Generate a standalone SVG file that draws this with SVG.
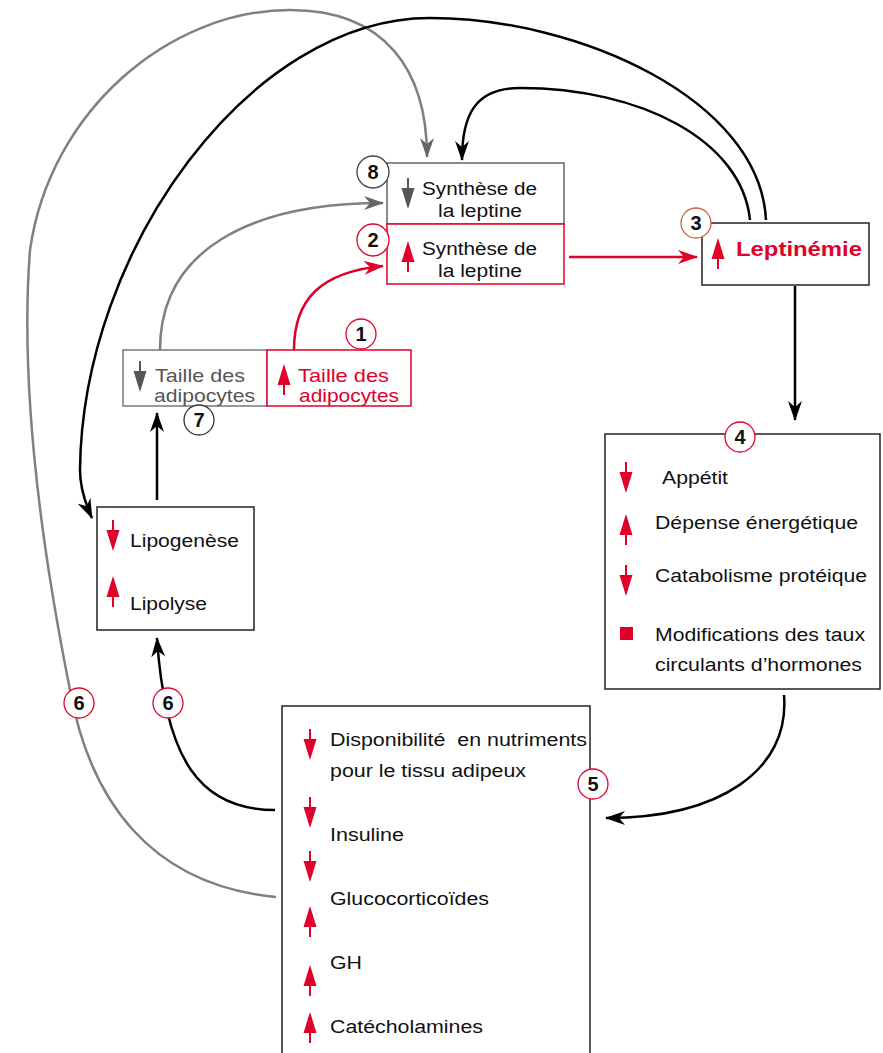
<svg xmlns="http://www.w3.org/2000/svg" xmlns:xlink="http://www.w3.org/1999/xlink" width="883" height="1053" viewBox="0 0 883 1053">
<style>
text{font-family:"Liberation Sans",Arial,sans-serif;}
.t{font-size:18px;fill:#111;}
.n{font-size:20px;font-weight:bold;fill:#111;text-anchor:middle;}
.box{fill:#fff;stroke:#222;stroke-width:1.5;}
.c{fill:#fff;stroke-width:1.3;}
.k{fill:none;stroke:#000;stroke-width:2.5;}
.g{fill:none;stroke:#808080;stroke-width:2.5;}
.r{fill:none;stroke:#e0002a;stroke-width:2.5;}
</style>
<defs>
<g id="dn"><path d="M0,0V14" stroke-width="2"/><path d="M-6.5,10H6.5L0,31Z" stroke="none"/></g>
<g id="up"><path d="M0,31V17" stroke-width="2"/><path d="M-6.5,21H6.5L0,0Z" stroke="none"/></g>
<marker id="mk" viewBox="0 0 20 14" refX="19" refY="7" markerWidth="20" markerHeight="14" markerUnits="userSpaceOnUse" orient="auto"><path d="M0,0L20,7L0,14L6,7Z" fill="#000"/></marker>
<marker id="mg" viewBox="0 0 20 14" refX="19" refY="7" markerWidth="20" markerHeight="14" markerUnits="userSpaceOnUse" orient="auto"><path d="M0,0L20,7L0,14L6,7Z" fill="#666"/></marker>
<marker id="mr" viewBox="0 0 20 14" refX="19" refY="7" markerWidth="20" markerHeight="14" markerUnits="userSpaceOnUse" orient="auto"><path d="M0,0L20,7L0,14L6,7Z" fill="#e0002a"/></marker>
</defs>

<g id="connectors">
<path class="g" d="M276,897 C150,885 90,800 70,690 C40,540 20,380 30,250 C50,110 170,10 290,10 C385,10 427,70 427,157" marker-end="url(#mg)"/>
<path class="k" d="M766,220 C760,100 580,18 430,18 C250,18 82,250 80,470 C80,490 86,505 92,518" marker-end="url(#mk)"/>
<path class="k" d="M750,220 C742,140 640,88 520,88 C475,88 462,115 462,160" marker-end="url(#mk)"/>
<path class="g" d="M160,350 C160,250 250,203 383,203" marker-end="url(#mg)"/>
<path class="r" d="M294,350 C294,300 320,272 383,266" marker-end="url(#mr)"/>
<path class="r" d="M569,257 H697" marker-end="url(#mr)"/>
<path class="k" d="M795,286 V420" marker-end="url(#mk)"/>
<path class="k" d="M784,695 C790,770 720,818 606,818" marker-end="url(#mk)"/>
<path class="k" d="M275,810 C200,810 165,760 157,638" marker-end="url(#mk)"/>
<path class="k" d="M157,500 V413" marker-end="url(#mk)"/>
</g>

<g id="node-synth8">
<rect x="387" y="163" width="177" height="61" fill="#fff" stroke="#666" stroke-width="1.5"/>
<use xlink:href="#dn" x="408" y="178" fill="#555" stroke="#555"/>
<text class="t" x="422" y="195" textLength="115" lengthAdjust="spacingAndGlyphs">Synthèse de</text>
<text class="t" x="438" y="217" textLength="84" lengthAdjust="spacingAndGlyphs">la leptine</text>
<circle class="c" cx="373" cy="172" r="16" stroke="#444"/>
<text class="n" x="373" y="179">8</text>
</g>

<g id="node-synth2">
<rect x="387" y="224" width="177" height="60" fill="#fff" stroke="#e0002a" stroke-width="1.5"/>
<use xlink:href="#up" x="408" y="241" fill="#e0002a" stroke="#e0002a"/>
<text class="t" x="422" y="255" textLength="115" lengthAdjust="spacingAndGlyphs">Synthèse de</text>
<text class="t" x="438" y="277" textLength="84" lengthAdjust="spacingAndGlyphs">la leptine</text>
<circle class="c" cx="373" cy="240" r="16" stroke="#e0002a"/>
<text class="n" x="373" y="247">2</text>
</g>

<g id="node-leptinemie">
<rect class="box" x="702" y="223" width="167" height="62"/>
<use xlink:href="#up" x="718" y="238" fill="#e0002a" stroke="#e0002a"/>
<text x="736" y="256" font-size="21" font-weight="bold" fill="#e0002a" textLength="126" lengthAdjust="spacingAndGlyphs">Leptinémie</text>
<circle class="c" cx="696" cy="223" r="15" stroke="#d0603a"/>
<text class="n" x="696" y="230">3</text>
</g>

<g id="node-taille-down">
<rect x="123" y="350" width="144" height="56" fill="#fff" stroke="#777" stroke-width="1.5"/>
<use xlink:href="#dn" x="140" y="361" fill="#555" stroke="#555"/>
<text x="155" y="382" font-size="19" fill="#555" textLength="90" lengthAdjust="spacingAndGlyphs">Taille des</text>
<text x="154" y="402" font-size="19" fill="#555" textLength="101" lengthAdjust="spacingAndGlyphs">adipocytes</text>
<circle class="c" cx="199" cy="420" r="15" stroke="#333"/>
<text class="n" x="199" y="427">7</text>
</g>

<g id="node-taille-up">
<rect x="267" y="350" width="144" height="56" fill="#fff" stroke="#e0002a" stroke-width="1.5"/>
<use xlink:href="#up" x="284" y="364" fill="#e0002a" stroke="#e0002a"/>
<text x="298" y="382" font-size="19" fill="#e0002a" textLength="91" lengthAdjust="spacingAndGlyphs">Taille des</text>
<text x="299" y="402" font-size="19" fill="#e0002a" textLength="100" lengthAdjust="spacingAndGlyphs">adipocytes</text>
<circle class="c" cx="361" cy="334" r="15" stroke="#e0002a"/>
<text class="n" x="361" y="341">1</text>
</g>

<g id="node-effects">
<rect class="box" x="605" y="434" width="275" height="255"/>
<use xlink:href="#dn" x="626" y="462" fill="#e0002a" stroke="#e0002a"/>
<text class="t" x="662" y="484" textLength="66" lengthAdjust="spacingAndGlyphs">Appétit</text>
<use xlink:href="#up" x="626" y="514" fill="#e0002a" stroke="#e0002a"/>
<text class="t" x="655" y="529" textLength="203" lengthAdjust="spacingAndGlyphs">Dépense énergétique</text>
<use xlink:href="#dn" x="626" y="565" fill="#e0002a" stroke="#e0002a"/>
<text class="t" x="655" y="582" textLength="212" lengthAdjust="spacingAndGlyphs">Catabolisme protéique</text>
<rect x="620" y="627" width="13" height="13" fill="#e0002a"/>
<text class="t" x="655" y="641" textLength="210" lengthAdjust="spacingAndGlyphs">Modifications des taux</text>
<text class="t" x="655" y="671" textLength="207" lengthAdjust="spacingAndGlyphs">circulants d’hormones</text>
<circle class="c" cx="740" cy="437" r="15" stroke="#e0002a"/>
<text class="n" x="740" y="444">4</text>
</g>

<g id="node-lipo">
<rect class="box" x="97" y="507" width="157" height="123"/>
<use xlink:href="#dn" x="113" y="520" fill="#e0002a" stroke="#e0002a"/>
<text class="t" x="130" y="547" textLength="109" lengthAdjust="spacingAndGlyphs">Lipogenèse</text>
<use xlink:href="#up" x="113" y="576" fill="#e0002a" stroke="#e0002a"/>
<text class="t" x="130" y="610" textLength="77" lengthAdjust="spacingAndGlyphs">Lipolyse</text>
</g>

<g id="node-hormones">
<rect class="box" x="282" y="706" width="308" height="360"/>
<use xlink:href="#dn" x="310" y="729" fill="#e0002a" stroke="#e0002a"/>
<text class="t" x="330" y="746" textLength="257" lengthAdjust="spacingAndGlyphs" xml:space="preserve">Disponibilité  en nutriments</text>
<text class="t" x="330" y="777" textLength="196" lengthAdjust="spacingAndGlyphs">pour le tissu adipeux</text>
<use xlink:href="#dn" x="310" y="797" fill="#e0002a" stroke="#e0002a"/>
<text class="t" x="330" y="841" textLength="74" lengthAdjust="spacingAndGlyphs">Insuline</text>
<use xlink:href="#dn" x="310" y="851" fill="#e0002a" stroke="#e0002a"/>
<text class="t" x="330" y="905" textLength="159" lengthAdjust="spacingAndGlyphs">Glucocorticoïdes</text>
<use xlink:href="#up" x="310" y="906" fill="#e0002a" stroke="#e0002a"/>
<text class="t" x="330" y="969" textLength="32" lengthAdjust="spacingAndGlyphs">GH</text>
<use xlink:href="#up" x="310" y="965" fill="#e0002a" stroke="#e0002a"/>
<text class="t" x="330" y="1033" textLength="153" lengthAdjust="spacingAndGlyphs">Catécholamines</text>
<use xlink:href="#up" x="310" y="1012" fill="#e0002a" stroke="#e0002a"/>
<circle class="c" cx="593" cy="784" r="15" stroke="#e0002a"/>
<text class="n" x="593" y="791">5</text>
</g>

<g id="label-6a">
<circle class="c" cx="79" cy="703" r="15" stroke="#e0002a"/>
<text class="n" x="79" y="710">6</text>
</g>
<g id="label-6b">
<circle class="c" cx="168" cy="703" r="15" stroke="#e0002a"/>
<text class="n" x="168" y="710">6</text>
</g>
</svg>
